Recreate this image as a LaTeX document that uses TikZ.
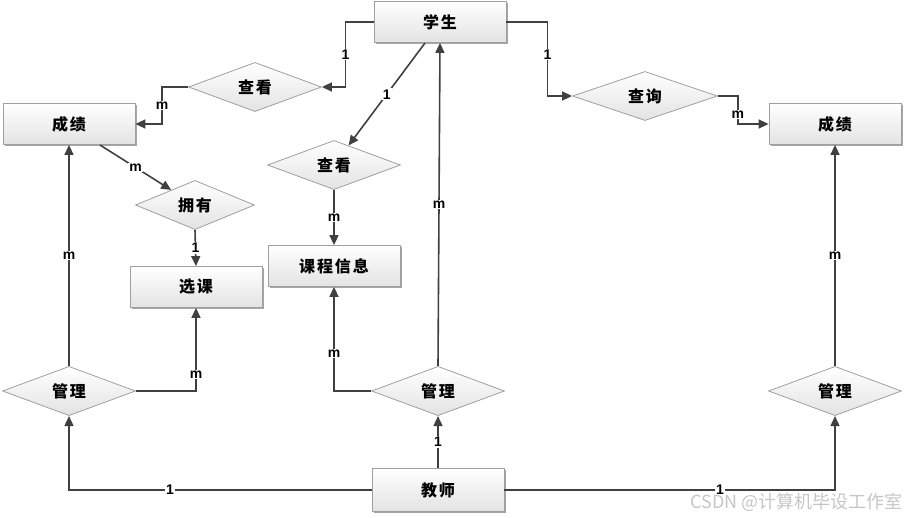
\documentclass[tikz,border=0pt]{standalone}
\usepackage{fontspec}
\setmainfont{Liberation Sans}
\newfontfamily\cjk[LetterSpace=12]{Noto Sans CJK SC}
\newfontfamily\cjkplain{Noto Sans CJK SC}
\usetikzlibrary{shapes.geometric,arrows.meta,shadows}
\begin{document}
\begin{tikzpicture}[x=1pt,y=-1pt,
  ent/.style={rectangle, draw=gray!75, line width=0.8pt, top color=white, bottom color=gray!22,
    minimum width=132pt, minimum height=41pt, inner sep=0pt,
    font=\cjk\bfseries\fontsize{16}{16}\selectfont,
    drop shadow={shadow xshift=1.5pt, shadow yshift=-1.5pt, fill=gray!70, opacity=1}},
  rel/.style={diamond, draw=gray!75, line width=0.8pt, top color=white, bottom color=gray!22,
    minimum width=133pt, minimum height=41pt, inner sep=0pt,
    font=\cjk\bfseries\fontsize{16}{16}\selectfont},
  conn/.style={draw=black!75, line width=1.6pt, -{Triangle[length=10pt,width=9pt]}},
  lbl/.style={fill=white, inner sep=1pt, text=black, font=\bfseries\fontsize{14}{14}\selectfont}
]
\useasboundingbox (0,0) rectangle (907,517);

% entities
\node[ent] (xs) at (440,22) {学生};
\node[ent] (cj1) at (69,124) {成绩};
\node[ent] (cj2) at (835,124) {成绩};
\node[ent] (xk) at (196,287) {选课};
\node[ent] (kc) at (334,266) {课程信息};
\node[ent, minimum height=43pt] (js) at (438,490) {教师};

% relations
\node[rel] (ck1) at (255,87) {查看};
\node[rel] (ck2) at (334,165) {查看};
\node[rel, minimum width=119pt] (yy) at (195,205) {拥有};
\node[rel, minimum width=145pt] (cx) at (645,96) {查询};
\node[rel, minimum height=44pt] (gl1) at (69,391) {管理};
\node[rel, minimum height=44pt] (gl2) at (438,391) {管理};
\node[rel, minimum height=44pt] (gl3) at (835,391) {管理};

\coordinate (s1) at (425,43);
\coordinate (c1) at (100,145);

% connectors
\draw[conn] (xs.west) -- ++(-28,0) |- node[lbl,pos=0.25] (l1) {1} (ck1.east);
\draw[conn] (ck1.west) -- ++(-26,0) |- node[lbl,pos=0.25] (l2) {m} (cj1.east);
\draw[conn] (s1) -- node[lbl] (l3) {1} (ck2);
\draw[conn] (ck2.south) -- node[lbl] (l4) {m} (kc.north);
\draw[conn] (c1) -- node[lbl] (l5) {m} (yy);
\draw[conn] (yy.south) -- node[lbl] (l6) {1} (xk.north);
\draw[conn] (gl1.north) -- node[lbl] (l7) {m} (cj1.south);
\draw[conn] (gl1.east) -| node[lbl,pos=0.6] (l8) {m} (xk.south);
\draw[conn] (js.west) -| node[lbl,pos=0.333] (l9) {1} (gl1.south);
\draw[conn] (js.north) -- node[lbl] (l10) {1} (gl2.south);
\draw[conn] (gl2.west) -| node[lbl,pos=0.68] (l11) {m} (kc.south);
\draw[conn] (gl2.north) -- node[lbl] (l12) {m} (xs.south);
\draw[conn] (xs.east) -- ++(41,0) |- node[lbl,pos=0.22] (l13) {1} (cx.west);
\draw[conn] (cx.east) -- ++(20,0) |- node[lbl,pos=0.33] (l14) {m} (cj2.west);
\draw[conn] (gl3.north) -- node[lbl] (l15) {m} (cj2.south);
\draw[conn] (js.east) -| node[lbl,pos=0.326] (l16) {1} (gl3.south);

% watermark
\node[anchor=east, inner sep=0pt, text=gray!45, font=\cjkplain\fontsize{18}{18}\selectfont] (wm) at (903,502) {CSDN @计算机毕设工作室};
\end{tikzpicture}
\end{document}
